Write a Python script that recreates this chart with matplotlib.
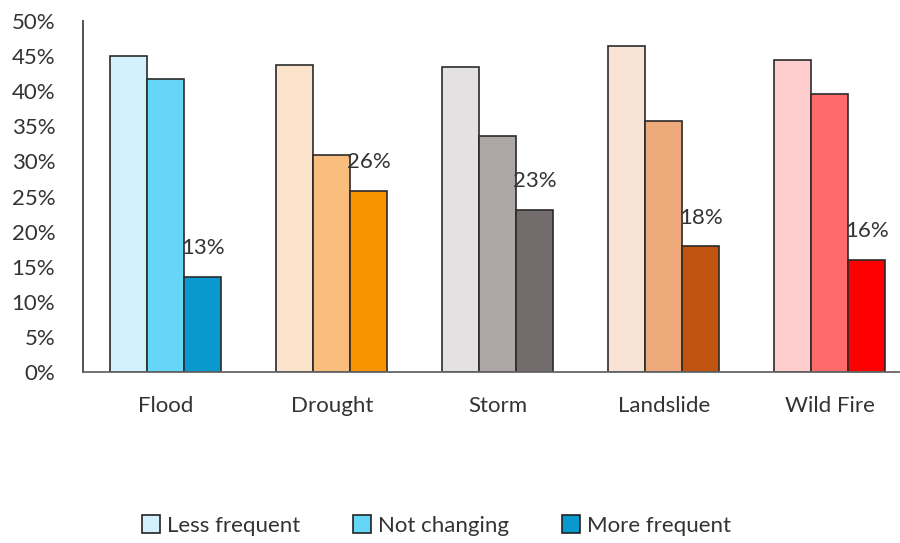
import numpy as np
import matplotlib.pyplot as plt
from matplotlib.patches import Patch

# Datos
categorias = ["Flood", "Drought", "Storm", "Landslide", "Wild Fire"]
series = ["Less frequent", "Not changing", "More frequent"]
menos = [45.0, 43.7, 43.5, 46.5, 44.4]
igual = [41.7, 30.9, 33.6, 35.7, 39.6]
mas = [13.5, 25.8, 23.1, 17.9, 16.0]
etiquetas_mas = ["13%", "26%", "23%", "18%", "16%"]

# Colores por categoria (menos, igual, mas)
colores = [
    ["#D2F1FC", "#66D6F8", "#0A99CE"],
    ["#FCE4CC", "#F9BE7E", "#F79400"],
    ["#E3E1E2", "#ADA8A6", "#736C6C"],
    ["#F9E3D6", "#EFAA7C", "#C0530F"],
    ["#FFCDCD", "#FF6B6B", "#FF0000"],
]

plt.rcParams['font.family'] = ['Lato', 'DejaVu Sans']

fig = plt.figure(figsize=(9, 5.43), dpi=100)
ax = fig.add_axes([0.0922, 0.315, 0.922, 0.646])

x = np.arange(len(categorias))
w = 0.223
valores = [menos, igual, mas]
for j in range(3):
    for i in range(len(categorias)):
        ax.bar(x[i] + (j - 1) * w, valores[j][i], w, color=colores[i][j],
               edgecolor="#2b2b2b", linewidth=1.2, zorder=2)

# Etiquetas sobre "More frequent"
for i in range(len(categorias)):
    ax.text(x[i] + w, mas[i] + 4.1, etiquetas_mas[i], ha="center", va="center",
            fontsize=16, color="#333333", zorder=3)

ax.set_xlim(-0.5, 4.5)
ax.set_ylim(0, 50)
ax.set_yticks(np.arange(0, 51, 5))
ax.set_yticklabels(["{}%".format(v) for v in range(0, 51, 5)])
ax.set_xticks(x)
ax.set_xticklabels(categorias)
ax.tick_params(axis="both", length=0, labelsize=16, colors="#333333")
ax.tick_params(axis="x", pad=17)
ax.tick_params(axis="y", pad=20)
for s in ["top", "right"]:
    ax.spines[s].set_visible(False)
ax.spines["left"].set_color("#444444")
ax.spines["bottom"].set_color("#666666")
ax.spines["left"].set_linewidth(1.3)
ax.spines["bottom"].set_linewidth(1.3)

handles = [Patch(facecolor=colores[0][j], edgecolor="#222222", linewidth=1.2, label=series[j])
           for j in range(3)]
fig.legend(handles=handles, loc="center", bbox_to_anchor=(0.485, 0.033), ncol=3, frameon=False,
           fontsize=16, handlelength=0.8, handleheight=0.9, handletextpad=0.3, columnspacing=2.4,
           labelcolor="#333333")

fig.savefig("out.png", dpi=100)
